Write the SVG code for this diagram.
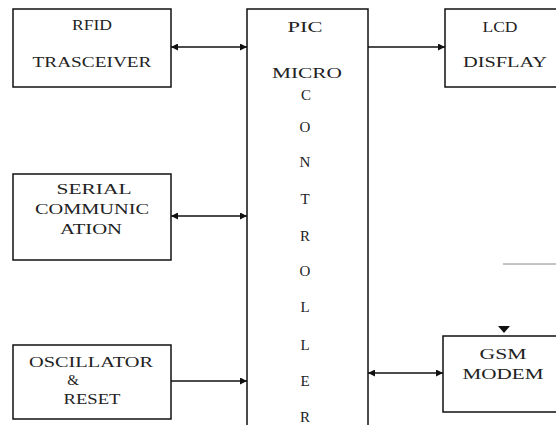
<svg xmlns="http://www.w3.org/2000/svg" width="556" height="425" viewBox="0 0 556 425">
<style>
.box{fill:#fff;stroke:#111;stroke-width:1.5}
.t{font-family:"Liberation Serif","Times New Roman",serif;font-size:15px;fill:#222;text-anchor:middle}
.c{stroke:#111;stroke-width:1.5;fill:none}
</style>
<defs>
<marker id="ah" viewBox="0 0 10 10" refX="10" refY="5" markerWidth="9" markerHeight="7" markerUnits="userSpaceOnUse" orient="auto-start-reverse">
<path d="M0,0 L10,5 L0,10 z" fill="#111"/>
</marker>
</defs>
<rect width="556" height="425" fill="#fff"/>
<g id="rfid">
<rect class="box" x="13" y="9" width="158" height="78"/>
<text class="t" x="92" y="30" textLength="40" lengthAdjust="spacingAndGlyphs">RFID</text>
<text class="t" x="92" y="67" textLength="119" lengthAdjust="spacingAndGlyphs">TRASCEIVER</text>
</g>
<g id="serial">
<rect class="box" x="13" y="174" width="158" height="86"/>
<text class="t" x="94" y="194" textLength="75" lengthAdjust="spacingAndGlyphs">SERIAL</text>
<text class="t" x="92" y="214" textLength="114" lengthAdjust="spacingAndGlyphs">COMMUNIC</text>
<text class="t" x="91" y="234" textLength="62" lengthAdjust="spacingAndGlyphs">ATION</text>
</g>
<g id="osc">
<rect class="box" x="13" y="345" width="158" height="74"/>
<text class="t" x="91" y="367" textLength="124" lengthAdjust="spacingAndGlyphs">OSCILLATOR</text>
<text class="t" x="73" y="385">&amp;</text>
<text class="t" x="92" y="404" textLength="57" lengthAdjust="spacingAndGlyphs">RESET</text>
</g>
<g id="pic">
<rect class="box" x="247" y="9" width="121" height="430"/>
<text class="t" x="305" y="32" textLength="35" lengthAdjust="spacingAndGlyphs">PIC</text>
<text class="t" x="307" y="78" textLength="70" lengthAdjust="spacingAndGlyphs">MICRO</text>
<text class="t" x="306" y="100">C</text>
<text class="t" x="305" y="132">O</text>
<text class="t" x="305" y="167">N</text>
<text class="t" x="305" y="204">T</text>
<text class="t" x="305" y="241">R</text>
<text class="t" x="305" y="276">O</text>
<text class="t" x="305" y="312">L</text>
<text class="t" x="305" y="350">L</text>
<text class="t" x="305" y="386">E</text>
<text class="t" x="305" y="422">R</text>
</g>
<g id="lcd">
<rect class="box" x="445" y="9" width="115" height="78"/>
<text class="t" x="500" y="32" textLength="35" lengthAdjust="spacingAndGlyphs">LCD</text>
<text class="t" x="505" y="67" textLength="84" lengthAdjust="spacingAndGlyphs">DISFLAY</text>
</g>
<g id="gsm">
<rect class="box" x="443" y="336" width="117" height="76"/>
<text class="t" x="503" y="359" textLength="47" lengthAdjust="spacingAndGlyphs">GSM</text>
<text class="t" x="503" y="379" textLength="81" lengthAdjust="spacingAndGlyphs">MODEM</text>
</g>
<g id="connectors">
<line class="c" x1="171" y1="47" x2="247" y2="47" marker-start="url(#ah)" marker-end="url(#ah)"/>
<line class="c" x1="368" y1="47" x2="445" y2="47" stroke-width="2" marker-end="url(#ah)"/>
<line class="c" x1="171" y1="216" x2="247" y2="216" marker-start="url(#ah)" marker-end="url(#ah)"/>
<line class="c" x1="171" y1="381" x2="247" y2="381" marker-end="url(#ah)"/>
<line class="c" x1="368" y1="373" x2="443" y2="373" marker-start="url(#ah)" marker-end="url(#ah)"/>
<line x1="503" y1="264" x2="556" y2="264" stroke="#888" stroke-width="1"/>
<path d="M498,326 L510,326 L504,333 z" fill="#111"/>
</g>
</svg>
